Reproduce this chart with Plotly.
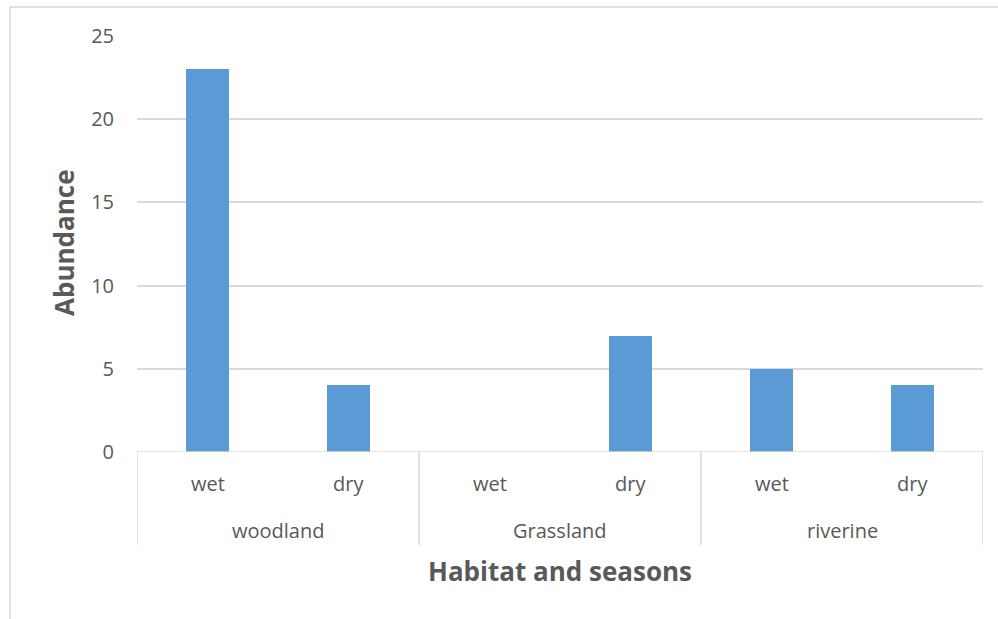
import plotly.graph_objects as go

# Abundance by habitat and season
habitats = ["woodland", "Grassland", "riverine"]
seasons = ["wet", "dry"]
abundance = [23, 4, 0, 7, 5, 4]

x_pos = [i + 0.5 for i in range(len(abundance))]
season_labels = [seasons[i % 2] for i in range(len(abundance))]

BAR = "#5B9BD5"
GRID = "#D9D9D9"
TXT = "#595959"
FONT = "Open Sans, Noto Sans, sans-serif"

fig = go.Figure(go.Bar(
    x=x_pos, y=abundance, width=0.31, marker=dict(color=BAR, line=dict(width=0)),
    hoverinfo="y",
))

# plot spans px 137..983 horizontally, 36..452 vertically
pw, ph = 846.0, 416.0
def px_x(px):
    return (px - 137) / pw
def px_y(py):
    return (452 - py) / ph

shapes = []
# baseline of category axis
shapes.append(dict(type="line", xref="x", yref="y", x0=0, x1=6, y0=0, y1=0,
                   line=dict(color=GRID, width=1.5)))
# group dividers spanning both label rows
for b in [0, 2, 4, 6]:
    shapes.append(dict(type="line", xref="x", yref="paper", x0=b, x1=b,
                       y0=px_y(545), y1=0, line=dict(color=GRID, width=1.5)))
# chart-area border
shapes.append(dict(type="rect", xref="paper", yref="paper",
                   x0=px_x(10), x1=px_x(1010), y0=px_y(640), y1=px_y(7),
                   line=dict(color=GRID, width=1.5), fillcolor="rgba(0,0,0,0)", layer="below"))

annotations = []
for xp, lab in zip(x_pos, season_labels):
    annotations.append(dict(x=xp, y=px_y(483), xref="x", yref="paper", text=lab,
                            xanchor="center", yanchor="middle", showarrow=False,
                            font=dict(size=20, color=TXT, family=FONT)))
for i, h in enumerate(habitats):
    annotations.append(dict(x=2 * i + 1, y=px_y(530), xref="x", yref="paper", text=h,
                            xanchor="center", yanchor="middle", showarrow=False,
                            font=dict(size=20, color=TXT, family=FONT)))
annotations.append(dict(x=px_x(560), y=px_y(571), xref="paper", yref="paper",
                        text="<b>Habitat and seasons</b>", xanchor="center", yanchor="middle",
                        showarrow=False, font=dict(size=26, color=TXT, family=FONT)))
annotations.append(dict(x=px_x(64), y=px_y(243), xref="paper", yref="paper",
                        text="<b>Abundance</b>", textangle=-90, xanchor="center", yanchor="middle",
                        showarrow=False, font=dict(size=26, color=TXT, family=FONT)))

fig.update_layout(
    width=998, height=619,
    margin=dict(l=137, r=15, t=36, b=167),
    paper_bgcolor="white", plot_bgcolor="white",
    showlegend=False, bargap=0,
    shapes=shapes, annotations=annotations,
    xaxis=dict(range=[0, 6], showticklabels=False, showgrid=False, zeroline=False,
               showline=False, ticks="", fixedrange=True),
    yaxis=dict(range=[0, 25], tickvals=[0, 5, 10, 15, 20, 25], showgrid=True,
               gridcolor=GRID, gridwidth=1.5, zeroline=False, showline=False,
               tickfont=dict(size=20, color=TXT, family=FONT), ticks="",
               ticklabelstandoff=22, fixedrange=True),
)

fig.write_html("out.html")
